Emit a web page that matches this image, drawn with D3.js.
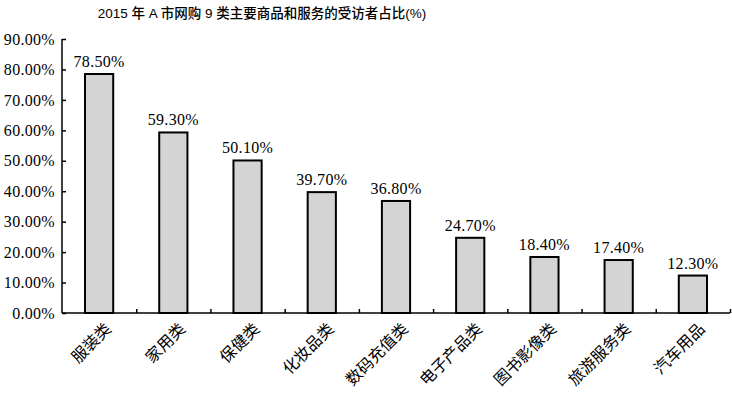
<!DOCTYPE html>
<html lang="zh">
<meta charset="utf-8">
<title>2015 年 A 市网购 9 类主要商品和服务的受访者占比</title>
<script src="https://d3js.org/d3.v7.min.js"></script>
<style>
  body { margin: 0; background: #fff; }
  .num { font-family: "Liberation Serif", "Times New Roman", serif; }
</style>
<svg width="732" height="394"></svg>
<script>
// data
var categories = ["服装类", "家用类", "保健类", "化妆品类", "数码充值类", "电子产品类", "图书影像类", "旅游服务类", "汽车用品"];
var values = [78.5, 59.3, 50.1, 39.7, 36.8, 24.7, 18.4, 17.4, 12.3];
var yTicks = [0, 10, 20, 30, 40, 50, 60, 70, 80, 90];

var svg = d3.select("svg");
var margin = {top: 39, right: 2, bottom: 81, left: 62};
var width = +svg.attr("width") - margin.left - margin.right;
var height = +svg.attr("height") - margin.top - margin.bottom;
var g = svg.append("g").attr("transform", "translate(" + margin.left + "," + margin.top + ")");

var x = d3.scaleBand().domain(categories).range([0, width]).paddingInner(0.62).paddingOuter(0.31);
var xb = d3.scaleLinear().domain([0, categories.length]).range([0, width]);
var y = d3.scaleLinear().domain([0, 90]).range([height, 0]);

svg.append("text")
    .attr("x", 262)
    .attr("y", 18)
    .attr("text-anchor", "middle")
    .style("font-family", "'Liberation Sans', 'Noto Sans CJK SC', sans-serif")
    .style("font-size", "13.5px")
    .style("font-weight", "500")
    .text("2015 年 A 市网购 9 类主要商品和服务的受访者占比(%)");

// bars
g.selectAll(".bar")
  .data(values)
  .enter().append("rect")
    .attr("class", "bar")
    .attr("x", function(d, i) { return x(categories[i]); })
    .attr("y", function(d) { return y(d); })
    .attr("width", x.bandwidth())
    .attr("height", function(d) { return height - y(d); })
    .attr("fill", "#d4d4d4")
    .attr("stroke", "#000")
    .attr("stroke-width", 2);

g.selectAll(".val")
  .data(values)
  .enter().append("text")
    .attr("class", "val num")
    .attr("x", function(d, i) { return x(categories[i]) + x.bandwidth() / 2; })
    .attr("y", function(d) { return y(d) - 7; })
    .attr("text-anchor", "middle")
    .style("font-size", "16px")
    .style("letter-spacing", "0.3px")
    .text(function(d) { return d.toFixed(2) + "%"; });

// y axis
var yAxis = g.append("g")
    .call(d3.axisLeft(y).tickValues(yTicks).tickSize(-4).tickPadding(7)
      .tickFormat(function(d) { return d.toFixed(2) + "%"; }));
yAxis.select(".domain").attr("d", "M0," + height + "V0").attr("stroke-width", 1.5);
yAxis.selectAll(".tick line").attr("stroke-width", 1.5);
yAxis.selectAll(".tick text")
    .attr("class", "num")
    .style("font-size", "16px")
    .style("letter-spacing", "0.3px")
    .attr("fill", "#000");
yAxis.attr("font-family", null);

// x axis with ticks between categories
var xAxis = g.append("g")
    .attr("transform", "translate(0," + height + ")")
    .call(d3.axisBottom(xb).tickValues(d3.range(1, categories.length + 1)).tickSize(-4).tickFormat(""));
xAxis.select(".domain").attr("d", "M0,0H" + width).attr("stroke-width", 1.5);
xAxis.selectAll(".tick line").attr("stroke-width", 1.5);

g.selectAll(".cat")
  .data(categories)
  .enter().append("text")
    .attr("class", "cat")
    .attr("transform", function(d) {
      return "translate(" + (x(d) + x.bandwidth() / 2 + 9) + "," + (height + 13) + ") rotate(-45)";
    })
    .attr("text-anchor", "end")
    .attr("dy", "0.35em")
    .style("font-family", "'Noto Sans CJK SC', sans-serif")
    .style("font-size", "16px")
    .text(function(d) { return d; });
</script>
</html>
